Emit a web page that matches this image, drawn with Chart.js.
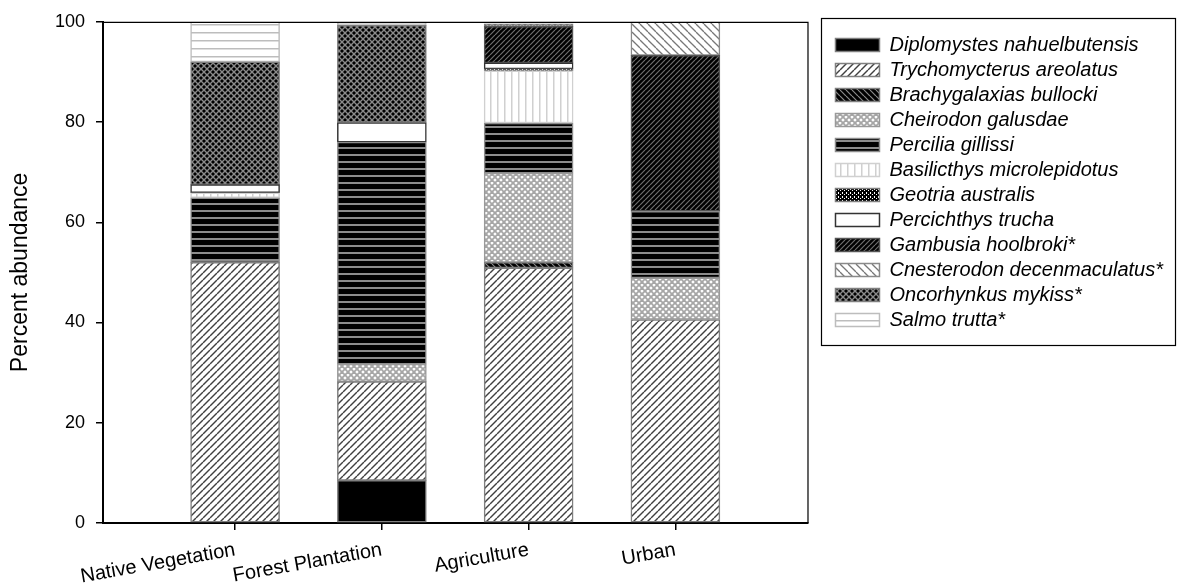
<!DOCTYPE html>
<html>
<head>
<meta charset="utf-8">
<script src="https://cdn.jsdelivr.net/npm/chart.js@4/dist/chart.umd.min.js"></script>
<style>
  html, body { margin: 0; padding: 0; background: #fff; }
  #wrap { width: 1177px; height: 584px; }
</style>
</head>
<body>
<div id="wrap"><canvas id="c" width="1177" height="584"></canvas></div>
<script>
// ---- data (percent abundance per land use) ----
const categories = ['Native Vegetation', 'Forest Plantation', 'Agriculture', 'Urban'];
const categoryPositions = [1, 2, 3, 4];
const yTicks = [0, 20, 40, 60, 80, 100];

const diplomystes    = [0,    8.5,  0,    0];
const trychomycterus = [52,   19.7, 50.9, 40.6];
const brachygalaxias = [0,    0,    1.1,  0];
const cheirodon      = [0,    3.5,  17.8, 8.3];
const percilia       = [12.9, 44.3, 10,   13.3];
const basilicthys    = [1,    0,    10.4, 0];
const geotria        = [0,    0,    0.4,  0];
const percichthys    = [1.6,  3.9,  1.2,  0];
const gambusia       = [0,    0,    7.3,  31.1];
const cnesterodon    = [0,    0,    0,    6.7];
const oncorhynkus    = [24.5, 19.4, 0.5,  0];
const salmo          = [8,    0.5,  0,    0];

const speciesNames = [
  'Diplomystes nahuelbutensis', 'Trychomycterus areolatus', 'Brachygalaxias bullocki',
  'Cheirodon galusdae', 'Percilia gillissi', 'Basilicthys microlepidotus', 'Geotria australis',
  'Percichthys trucha', 'Gambusia hoolbroki*', 'Cnesterodon decenmaculatus*',
  'Oncorhynkus mykiss*', 'Salmo trutta*'
];
const speciesValues = [diplomystes, trychomycterus, brachygalaxias, cheirodon, percilia,
  basilicthys, geotria, percichthys, gambusia, cnesterodon, oncorhynkus, salmo];

// ---- patterns ----
const mainCtx = document.getElementById('c').getContext('2d');
function tile(w, h, draw) {
  const t = document.createElement('canvas');
  t.width = w; t.height = h;
  const g = t.getContext('2d');
  draw(g, w, h);
  return mainCtx.createPattern(t, 'repeat');
}
function diag(size, bg, fg, lw, dir) {
  return tile(size, size, (g, w, h) => {
    g.fillStyle = bg; g.fillRect(0, 0, w, h);
    g.strokeStyle = fg; g.lineWidth = lw;
    for (let k = -1; k <= 1; k++) {
      g.beginPath();
      if (dir === '/') { g.moveTo(k * size, size); g.lineTo(k * size + size, 0); }
      else { g.moveTo(k * size, 0); g.lineTo(k * size + size, size); }
      g.stroke();
    }
  });
}
function hlines(period, bg, fg, lw) {
  return tile(4, period, (g, w, h) => {
    g.fillStyle = bg; g.fillRect(0, 0, w, h);
    g.fillStyle = fg; g.fillRect(0, 0, w, lw);
  });
}
function vlines(period, bg, fg, lw) {
  return tile(period, 4, (g, w, h) => {
    g.fillStyle = bg; g.fillRect(0, 0, w, h);
    g.fillStyle = fg; g.fillRect(0, 0, lw, h);
  });
}
function lattice(size, bg, fg, lw) {
  return tile(size, size, (g, w, h) => {
    g.fillStyle = bg; g.fillRect(0, 0, w, h);
    g.strokeStyle = fg; g.lineWidth = lw;
    for (let k = -1; k <= 1; k++) {
      g.beginPath(); g.moveTo(k * size, size); g.lineTo(k * size + size, 0); g.stroke();
      g.beginPath(); g.moveTo(k * size, 0); g.lineTo(k * size + size, size); g.stroke();
    }
  });
}
const fills = [
  '#000000',
  diag(7, '#ffffff', '#404040', 1.4, '/'),
  diag(6, '#000000', '#8a8a8a', 1.2, '\\'),
  lattice(6, '#ffffff', '#a6a6a6', 1.8),
  hlines(7, '#000000', '#8c8c8c', 2),
  vlines(7, '#ffffff', '#d0d0d0', 1.5),
  tile(4, 4, (g) => { g.fillStyle = '#000000'; g.fillRect(0, 0, 4, 4); g.fillStyle = '#ffffff'; g.fillRect(2, 0, 1, 2); g.fillRect(0, 2, 1, 1); }),
  '#ffffff',
  diag(5, '#000000', '#6e6e6e', 1.2, '/'),
  diag(8, '#ffffff', '#777777', 1.3, '\\'),
  lattice(6, '#000000', '#8a8a8a', 1.4),
  hlines(8, '#ffffff', '#bdbdbd', 1.5)
];
const borders = ['#7f7f7f', '#7f7f7f', '#7f7f7f', '#9a9a9a', '#8c8c8c', '#d0d0d0', '#7f7f7f',
  '#333333', '#555555', '#8a8a8a', '#7f7f7f', '#bdbdbd'];

const datasets = speciesNames.map((name, s) => ({
  label: name,
  data: speciesValues[s].map((v, i) => ({ x: categoryPositions[i], y: v === 0 ? null : v })),
  backgroundColor: fills[s],
  borderColor: borders[s],
  borderWidth: 1.5,
  borderSkipped: false,
  barThickness: 89
}));

const FONT = "'Liberation Sans', Arial, sans-serif";

const framePlugin = {
  id: 'frame',
  afterDraw(chart) {
    const ctx = chart.ctx;
    const a = chart.chartArea;
    ctx.save();
    ctx.strokeStyle = '#000';
    ctx.lineWidth = 1.2;
    ctx.beginPath();
    ctx.moveTo(a.left, a.top + 0.5);
    ctx.lineTo(a.right + 0.5, a.top + 0.5);
    ctx.lineTo(a.right + 0.5, a.bottom);
    ctx.stroke();
    // legend frame
    const lg = chart.legend;
    if (lg && lg.legendHitBoxes && lg.legendHitBoxes.length) {
      const hb = lg.legendHitBoxes;
      const first = hb[0], last = hb[hb.length - 1];
      const x0 = first.left - 14, y0 = first.top - 17;
      const x1 = chart.width - 2, y1 = last.top + last.height + 15;
      ctx.lineWidth = 1.2;
      ctx.strokeStyle = '#000';
      ctx.strokeRect(Math.round(x0) + 0.5, Math.round(y0) + 0.5, Math.round(x1 - x0), Math.round(y1 - y0));
    }
    ctx.restore();
  }
};

new Chart(document.getElementById('c'), {
  type: 'bar',
  data: { datasets },
  plugins: [framePlugin],
  options: {
    responsive: false,
    animation: false,
    devicePixelRatio: 1,
    layout: { padding: { top: 20, right: 4, bottom: 0, left: 0 } },
    plugins: {
      tooltip: { enabled: false },
      legend: {
        position: 'right',
        align: 'start',
        maxWidth: 420,
        title: { display: true, text: '', font: { size: 10, lineHeight: 1 }, padding: 0 },
        labels: {
          boxWidth: 44,
          boxHeight: 13,
          padding: 5,
          color: '#000',
          font: { family: FONT, size: 20, style: 'italic' }
        }
      }
    },
    scales: {
      x: {
        type: 'linear',
        min: 0.1,
        max: 4.9,
        stacked: true,
        offset: false,
        afterBuildTicks(scale) { scale.ticks = categoryPositions.map(v => ({ value: v })); },
        afterFit(scale) { scale.height = 61; },
        ticks: {
          autoSkip: false,
          minRotation: 10,
          maxRotation: 10,
          padding: 8,
          color: '#000',
          font: { family: FONT, size: 20 },
          callback: (v) => { const i = categoryPositions.indexOf(v); return i >= 0 ? categories[i] : ''; }
        },
        grid: { offset: false, drawOnChartArea: false, drawTicks: true, tickLength: 7, color: '#000', lineWidth: 1.5 },
        border: { display: true, color: '#000', width: 2 }
      },
      y: {
        stacked: true,
        min: 0,
        max: 100,
        afterBuildTicks(scale) { scale.ticks = yTicks.map(v => ({ value: v })); },
        afterFit(scale) { scale.width = 103; },
        ticks: { padding: 11, color: '#000', font: { family: FONT, size: 18 } },
        grid: { drawOnChartArea: false, drawTicks: true, tickLength: 7, color: '#000', lineWidth: 1.5 },
        border: { display: true, color: '#000', width: 2 },
        title: { display: true, text: 'Percent abundance', color: '#000', font: { family: FONT, size: 23 }, padding: { top: 7, bottom: 0 } }
      },
      gap: {
        type: 'linear',
        position: 'right',
        display: true,
        afterFit(scale) { scale.width = 23; },
        ticks: { display: false },
        grid: { display: false },
        border: { display: false }
      }
    }
  }
});
</script>
</body>
</html>
